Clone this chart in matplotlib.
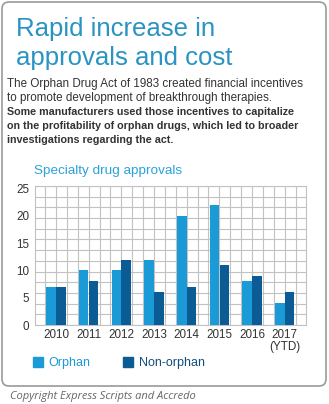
import matplotlib
matplotlib.use('Agg')
import matplotlib.pyplot as plt
from matplotlib.patches import FancyBboxPatch, Patch
import numpy as np

years = ['2010', '2011', '2012', '2013', '2014', '2015', '2016', '2017\n(YTD)']
orphan = [7, 10, 10, 12, 20, 22, 8, 4]
non_orphan = [7, 8, 12, 6, 7, 11, 9, 6]
y_ticks = [0, 5, 10, 15, 20, 25]

title_lines = ['Rapid increase in', 'approvals and cost']
body_regular = ['The Orphan Drug Act of 1983 created financial incentives',
                'to promote development of breakthrough therapies.']
body_bold = ['Some manufacturers used those incentives to capitalize',
             'on the profitability of orphan drugs, which led to broader',
             'investigations regarding the act.']
chart_title = 'Specialty drug approvals'
copyright_text = 'Copyright Express Scripts and Accredo'

C_ORPHAN = '#1a9ad6'
C_NON = '#0b5b94'
C_TITLE = '#2a93c2'
C_TEXT = '#333333'
C_GRID = '#c2c2c2'

W, H = 329, 404


def fy(px):
	# pixel row from top -> figure fraction
	return 1 - px / H


def fx(px):
	return px / W


def main():
	fig = plt.figure(figsize=(W / 100, H / 100), dpi=100, facecolor='w')

	# rounded frame
	box = FancyBboxPatch((0.02, 0.18), 3.24, 3.84, boxstyle='round,pad=0,rounding_size=0.07',
	                     transform=fig.dpi_scale_trans, facecolor='none', edgecolor='#9a9a9a',
	                     linewidth=1.2, zorder=-1)
	fig.patches.append(box)

	fam = ['Liberation Sans', 'DejaVu Sans']

	# ********************* header text *********************
	fig.text(fx(16), fy(36), title_lines[0], fontsize=18.5, color=C_TITLE, family=fam, va='baseline')
	fig.text(fx(16), fy(65), title_lines[1], fontsize=18.5, color=C_TITLE, family=fam, va='baseline')

	y = 87.5
	for line in body_regular:
		fig.text(fx(7), fy(y), line, fontsize=8.4, color=C_TEXT, family=fam, va='baseline')
		y += 13.8
	for line in body_bold:
		fig.text(fx(7), fy(y), line, fontsize=7.75, color=C_TEXT, family=fam,
		         weight='bold', va='baseline')
		y += 13.8

	fig.text(fx(34), fy(174), chart_title, fontsize=9.7, color='#2aa2d8', family=fam, va='baseline')

	# ********************* bar chart *********************
	ax = fig.add_axes([fx(35), fy(325), fx(306) - fx(35), fy(186) - fy(325)])
	x = np.arange(len(years))
	w = 0.29
	ax.bar(x - w / 2 - 0.005, orphan, w, color=C_ORPHAN, zorder=3, label='Orphan')
	ax.bar(x + w / 2 + 0.005, non_orphan, w, color=C_NON, zorder=3, label='Non-orphan')

	ax.set_xlim(-0.64, len(years) - 1 + 0.65)
	ax.set_ylim(0, 25.5)

	# square background grid (decorative)
	for gx in np.arange(-1, 3 * len(years)) / 3.0:
		ax.axvline(gx, color=C_GRID, linewidth=0.8, zorder=1)
	for gy in np.linspace(0, 25.5, 14):
		ax.axhline(gy, color=C_GRID, linewidth=0.8, zorder=1)

	for s in ax.spines.values():
		s.set_color(C_GRID)
		s.set_linewidth(0.8)

	ax.set_xticks(x)
	ax.set_xticklabels(years)
	ax.set_yticks(y_ticks)
	ax.tick_params(length=0, labelsize=8.4, labelcolor=C_TEXT)
	ax.tick_params(axis='y', pad=4)
	ax.tick_params(axis='x', pad=3)
	for lbl in ax.get_xticklabels() + ax.get_yticklabels():
		lbl.set_family(fam)
	for lbl in ax.get_xticklabels():
		lbl.set_linespacing(1.0)

	handles = [Patch(color=C_ORPHAN), Patch(color=C_NON)]
	fig.legend(handles, ['Orphan', 'Non-orphan'], loc='center left', bbox_to_anchor=(fx(33), fy(363)),
	           ncol=2, frameon=False, handlelength=0.8, handleheight=0.8,
	           handletextpad=0.45, columnspacing=2.6, borderpad=0, borderaxespad=0,
	           labelcolor=[C_ORPHAN, '#114e7e'], prop={'family': fam, 'size': 9})

	fig.text(fx(10), fy(399), copyright_text, fontsize=8, color='#666666', style='italic',
	         family=['Open Sans', 'Liberation Sans', 'DejaVu Sans'], va='baseline')

	fig.savefig('out.png', dpi=100, facecolor='w')


if __name__ == '__main__':
	main()
